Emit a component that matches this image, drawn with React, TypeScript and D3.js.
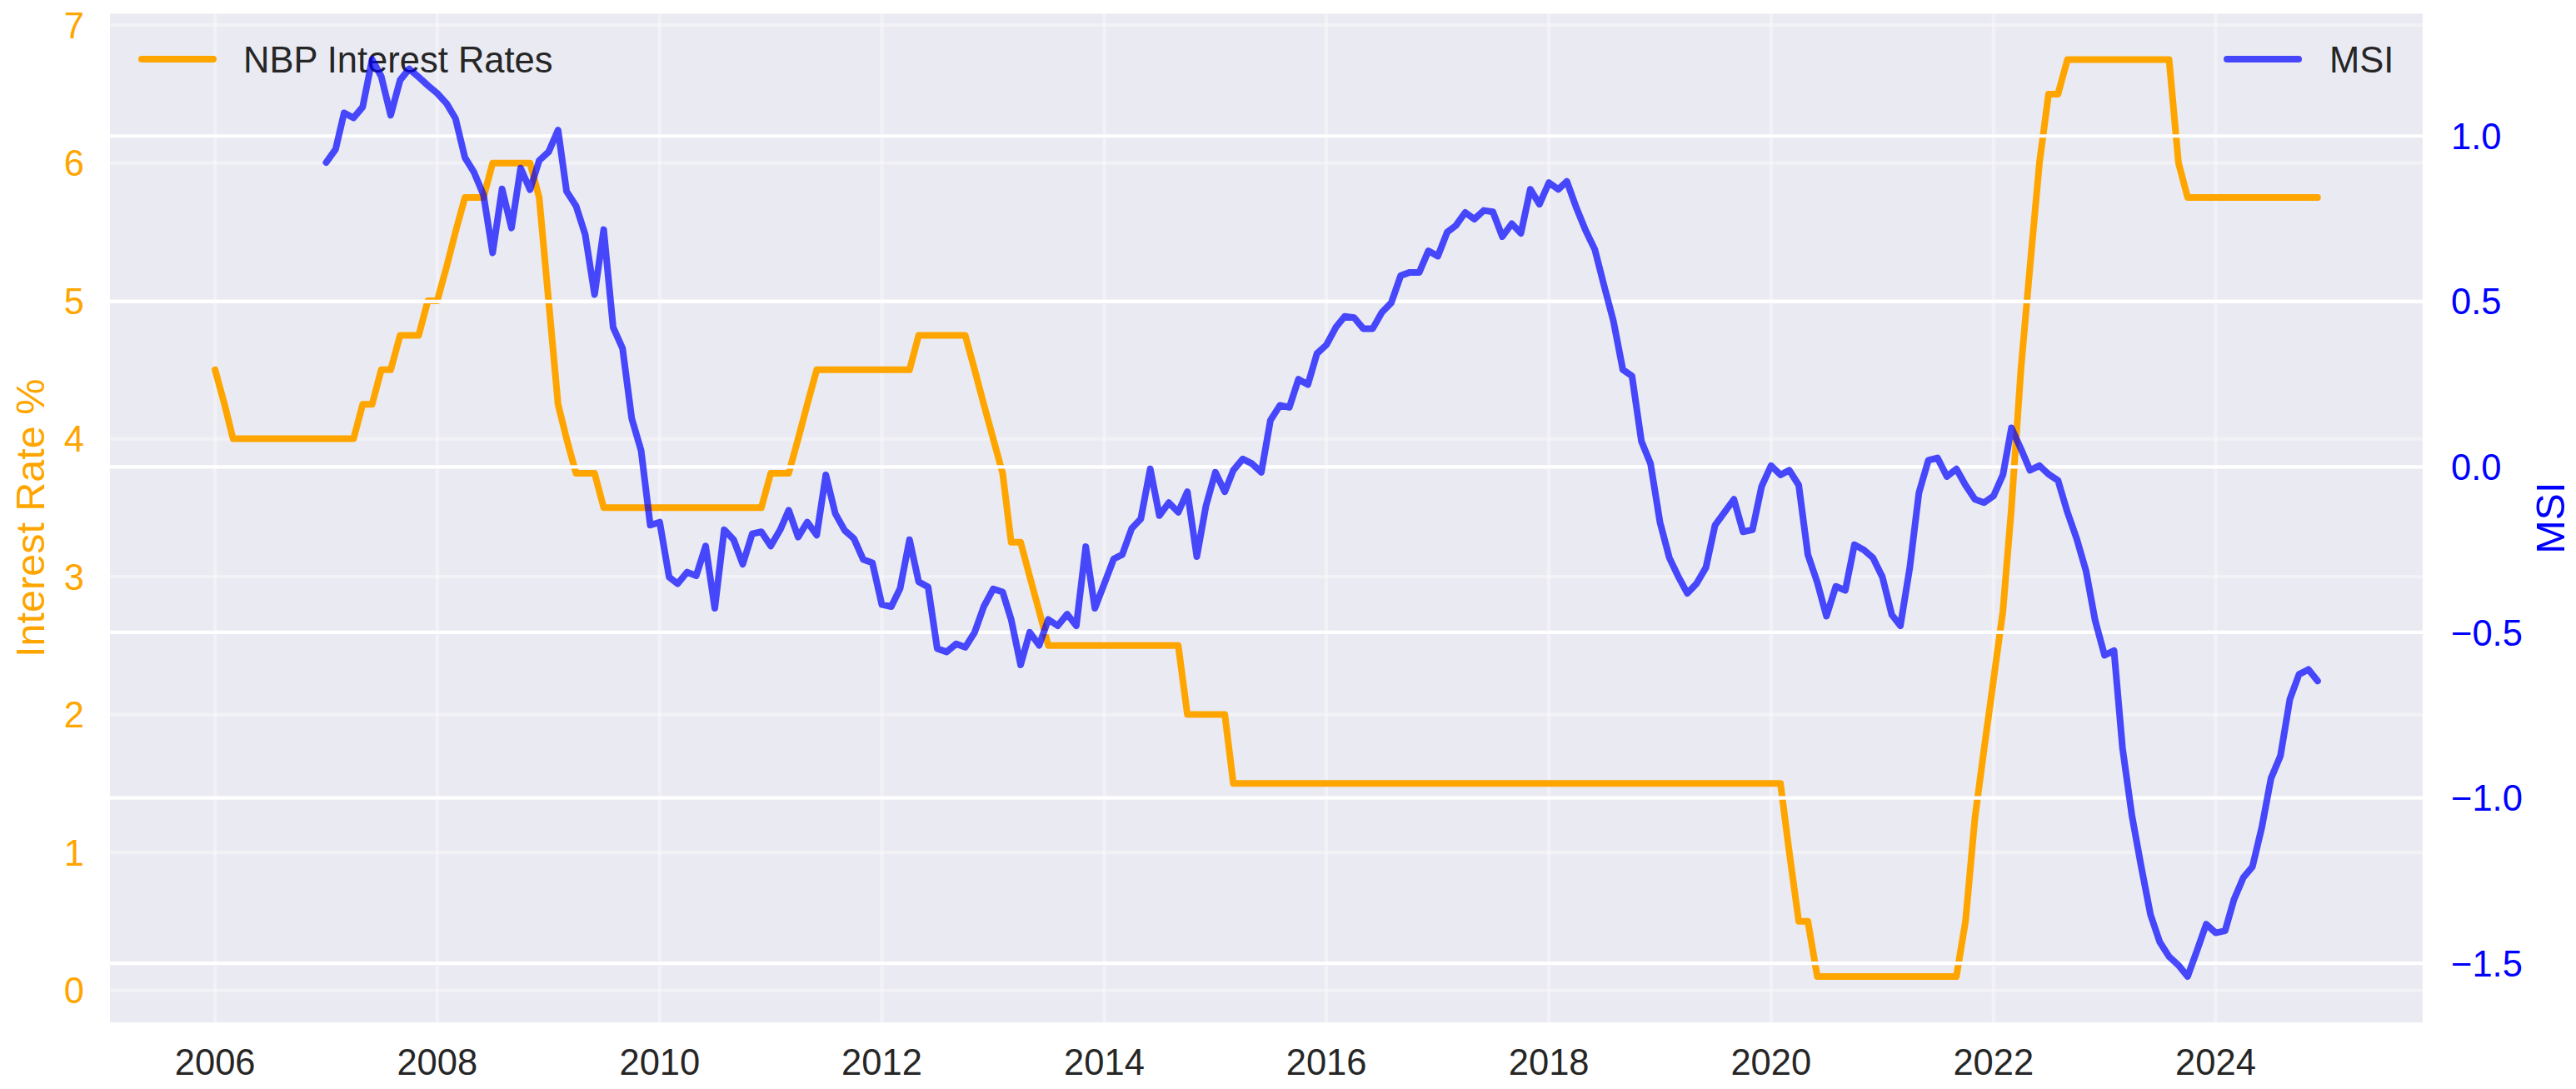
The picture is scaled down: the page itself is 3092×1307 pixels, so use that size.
import React from "react";
import * as d3 from "d3";

// NBP reference rate (%), monthly, Jan 2006 – Dec 2024
const rate2006 = [4.5, 4.25, 4.0, 4.0, 4.0, 4.0, 4.0, 4.0, 4.0, 4.0, 4.0, 4.0];
const rate2007 = [4.0, 4.0, 4.0, 4.0, 4.25, 4.25, 4.5, 4.5, 4.75, 4.75, 4.75, 5.0];
const rate2008 = [5.0, 5.25, 5.5, 5.75, 5.75, 5.75, 6.0, 6.0, 6.0, 6.0, 6.0, 5.75];
const rate2009 = [5.0, 4.25, 4.0, 3.75, 3.75, 3.75, 3.5, 3.5, 3.5, 3.5, 3.5, 3.5];
const rate2010 = [3.5, 3.5, 3.5, 3.5, 3.5, 3.5, 3.5, 3.5, 3.5, 3.5, 3.5, 3.5];
const rate2011 = [3.75, 3.75, 3.75, 4.0, 4.25, 4.5, 4.5, 4.5, 4.5, 4.5, 4.5, 4.5];
const rate2012 = [4.5, 4.5, 4.5, 4.5, 4.75, 4.75, 4.75, 4.75, 4.75, 4.75, 4.5, 4.25];
const rate2013 = [4.0, 3.75, 3.25, 3.25, 3.0, 2.75, 2.5, 2.5, 2.5, 2.5, 2.5, 2.5];
const rate2014 = [2.5, 2.5, 2.5, 2.5, 2.5, 2.5, 2.5, 2.5, 2.5, 2.0, 2.0, 2.0];
const rate2015 = [2.0, 2.0, 1.5, 1.5, 1.5, 1.5, 1.5, 1.5, 1.5, 1.5, 1.5, 1.5];
const rate2016 = [1.5, 1.5, 1.5, 1.5, 1.5, 1.5, 1.5, 1.5, 1.5, 1.5, 1.5, 1.5];
const rate2017 = [1.5, 1.5, 1.5, 1.5, 1.5, 1.5, 1.5, 1.5, 1.5, 1.5, 1.5, 1.5];
const rate2018 = [1.5, 1.5, 1.5, 1.5, 1.5, 1.5, 1.5, 1.5, 1.5, 1.5, 1.5, 1.5];
const rate2019 = [1.5, 1.5, 1.5, 1.5, 1.5, 1.5, 1.5, 1.5, 1.5, 1.5, 1.5, 1.5];
const rate2020 = [1.5, 1.5, 1.0, 0.5, 0.5, 0.1, 0.1, 0.1, 0.1, 0.1, 0.1, 0.1];
const rate2021 = [0.1, 0.1, 0.1, 0.1, 0.1, 0.1, 0.1, 0.1, 0.1, 0.5, 1.25, 1.75];
const rate2022 = [2.25, 2.75, 3.5, 4.5, 5.25, 6.0, 6.5, 6.5, 6.75, 6.75, 6.75, 6.75];
const rate2023 = [6.75, 6.75, 6.75, 6.75, 6.75, 6.75, 6.75, 6.75, 6.0, 5.75, 5.75, 5.75];
const rate2024 = [5.75, 5.75, 5.75, 5.75, 5.75, 5.75, 5.75, 5.75, 5.75, 5.75, 5.75, 5.75];

// MSI, monthly, Jan 2007 – Dec 2024
const msi2007 = [0.92, 0.96, 1.07, 1.055, 1.088, 1.231, 1.18, 1.063, 1.169, 1.203, 1.178, 1.153];
const msi2008 = [1.129, 1.098, 1.053, 0.935, 0.89, 0.822, 0.647, 0.84, 0.722, 0.903, 0.838, 0.926];
const msi2009 = [0.952, 1.018, 0.833, 0.789, 0.703, 0.521, 0.717, 0.422, 0.358, 0.147, 0.049, -0.176];
const msi2010 = [-0.167, -0.333, -0.353, -0.318, -0.329, -0.239, -0.427, -0.19, -0.22, -0.294, -0.202, -0.196];
const msi2011 = [-0.239, -0.19, -0.131, -0.212, -0.167, -0.206, -0.024, -0.141, -0.192, -0.216, -0.28, -0.29];
const msi2012 = [-0.416, -0.422, -0.367, -0.22, -0.347, -0.363, -0.549, -0.559, -0.535, -0.545, -0.5, -0.422];
const msi2013 = [-0.369, -0.378, -0.461, -0.598, -0.5, -0.539, -0.461, -0.48, -0.445, -0.48, -0.241, -0.427];
const msi2014 = [-0.353, -0.278, -0.265, -0.186, -0.157, -0.006, -0.147, -0.108, -0.137, -0.075, -0.271, -0.118];
const msi2015 = [-0.016, -0.075, -0.01, 0.024, 0.01, -0.016, 0.141, 0.186, 0.18, 0.265, 0.249, 0.343];
const msi2016 = [0.369, 0.422, 0.455, 0.451, 0.418, 0.418, 0.467, 0.496, 0.578, 0.588, 0.588, 0.653];
const msi2017 = [0.637, 0.71, 0.729, 0.769, 0.749, 0.775, 0.771, 0.696, 0.735, 0.706, 0.839, 0.794];
const msi2018 = [0.859, 0.839, 0.863, 0.784, 0.716, 0.657, 0.549, 0.441, 0.294, 0.275, 0.078, 0.01];
const msi2019 = [-0.167, -0.275, -0.329, -0.382, -0.353, -0.304, -0.176, -0.137, -0.098, -0.196, -0.19, -0.059];
const msi2020 = [0.004, -0.024, -0.01, -0.055, -0.265, -0.349, -0.451, -0.361, -0.373, -0.235, -0.251, -0.275];
const msi2021 = [-0.333, -0.447, -0.48, -0.304, -0.078, 0.02, 0.027, -0.029, -0.006, -0.055, -0.098, -0.108];
const msi2022 = [-0.088, -0.024, 0.118, 0.055, -0.01, 0.004, -0.022, -0.041, -0.137, -0.216, -0.314, -0.464];
const msi2023 = [-0.569, -0.555, -0.85, -1.054, -1.206, -1.353, -1.435, -1.48, -1.506, -1.54, -1.461, -1.382];
const msi2024 = [-1.408, -1.402, -1.308, -1.241, -1.208, -1.088, -0.941, -0.873, -0.702, -0.627, -0.612, -0.647];

const rateValues = [
  ...rate2006, ...rate2007, ...rate2008, ...rate2009, ...rate2010, ...rate2011, ...rate2012,
  ...rate2013, ...rate2014, ...rate2015, ...rate2016, ...rate2017, ...rate2018, ...rate2019,
  ...rate2020, ...rate2021, ...rate2022, ...rate2023, ...rate2024,
];
const msiValues = [
  ...msi2007, ...msi2008, ...msi2009, ...msi2010, ...msi2011, ...msi2012, ...msi2013,
  ...msi2014, ...msi2015, ...msi2016, ...msi2017, ...msi2018, ...msi2019, ...msi2020,
  ...msi2021, ...msi2022, ...msi2023, ...msi2024,
];

const rateStart = new Date(2006, 0, 1);
const msiStart = new Date(2007, 0, 1);
const leftTicks = [0, 1, 2, 3, 4, 5, 6, 7];
const rightTicks = [-1.5, -1.0, -0.5, 0.0, 0.5, 1.0];

const W = 3092;
const H = 1307;
const PL = 132;
const PR = 2908;
const PT = 16.5;
const PB = 1227;

const FONT = "'Liberation Sans', Arial, Helvetica, sans-serif";
const FS = 43.5;
const LFS = 48.5;
const LW = 8;
const ORANGE = "#FFA500";
const BLUE = "#0000FF";

function pad(ext: [number, number]): [number, number] {
  const s = ext[1] - ext[0];
  return [ext[0] - 0.05 * s, ext[1] + 0.05 * s];
}

export default function App() {
  const rateDates = d3.timeMonth.range(rateStart, d3.timeMonth.offset(rateStart, rateValues.length));
  const msiDates = d3.timeMonth.range(msiStart, d3.timeMonth.offset(msiStart, msiValues.length));
  const rateData = rateValues.map((v, i) => ({ d: rateDates[i], v }));
  const msiData = msiValues.map((v, i) => ({ d: msiDates[i], v }));

  const t0 = rateDates[0].getTime();
  const t1 = rateDates[rateDates.length - 1].getTime();
  const span = t1 - t0;
  const x = d3
    .scaleTime()
    .domain([new Date(t0 - 0.05 * span), new Date(t1 + 0.05 * span)])
    .range([PL, PR]);

  const yL = d3
    .scaleLinear()
    .domain(pad(d3.extent(rateValues) as [number, number]))
    .range([PB, PT]);
  const yR = d3
    .scaleLinear()
    .domain(pad(d3.extent(msiValues) as [number, number]))
    .range([PB, PT]);

  const xTicks = x.ticks(d3.timeYear.every(2) as any);

  const rateLine = d3
    .line<{ d: Date; v: number }>()
    .x((p) => x(p.d))
    .y((p) => yL(p.v))(rateData) as string;
  const msiLine = d3
    .line<{ d: Date; v: number }>()
    .x((p) => x(p.d))
    .y((p) => yR(p.v))(msiData) as string;

  const fmtR = (v: number) => d3.format(".1f")(v).replace("-", "\u2212");
  const midY = (PT + PB) / 2;

  return (
    <svg
      width={W}
      height={H}
      viewBox={`0 0 ${W} ${H}`}
      style={{ position: "absolute", left: 0, top: 0, background: "#ffffff" }}
      fontFamily={FONT}
    >
      <rect x={0} y={0} width={W} height={H} fill="#ffffff" />
      <rect x={PL} y={PT} width={PR - PL} height={PB - PT} fill="#EAEAF2" />

      {/* ax1 grid (faint) */}
      <g stroke="#ffffff" strokeOpacity={0.35} strokeWidth={4.2}>
        {xTicks.map((t, i) => (
          <line key={"vx" + i} x1={x(t)} x2={x(t)} y1={PT} y2={PB} />
        ))}
        {leftTicks.map((t) => (
          <line key={"hl" + t} x1={PL} x2={PR} y1={yL(t)} y2={yL(t)} />
        ))}
      </g>

      {/* NBP rates */}
      <path
        d={rateLine}
        fill="none"
        stroke={ORANGE}
        strokeWidth={LW}
        strokeLinejoin="round"
        strokeLinecap="round"
      />

      {/* ax1 legend */}
      <g>
        <line x1={170} x2={256} y1={71} y2={71} stroke={ORANGE} strokeWidth={LW} strokeLinecap="round" />
        <text x={292} y={87} fontSize={FS} fill="#262626">
          NBP Interest Rates
        </text>
      </g>

      {/* ax2 grid (white) */}
      <g stroke="#ffffff" strokeWidth={4.2}>
        {rightTicks.map((t) => (
          <line key={"hr" + t} x1={PL} x2={PR} y1={yR(t)} y2={yR(t)} />
        ))}
      </g>

      {/* MSI */}
      <path
        d={msiLine}
        fill="none"
        stroke={BLUE}
        strokeOpacity={0.7}
        strokeWidth={LW}
        strokeLinejoin="round"
        strokeLinecap="round"
      />

      {/* ax2 legend */}
      <g>
        <line x1={2673} x2={2759} y1={71} y2={71} stroke={BLUE} strokeOpacity={0.7} strokeWidth={LW} strokeLinecap="round" />
        <text x={2796} y={87} fontSize={FS} fill="#262626">
          MSI
        </text>
      </g>

      {/* x tick labels */}
      <g fontSize={FS} fill="#262626" textAnchor="middle">
        {xTicks.map((t, i) => (
          <text key={"xt" + i} x={x(t)} y={1290}>
            {d3.timeFormat("%Y")(t)}
          </text>
        ))}
      </g>

      {/* left tick labels */}
      <g fontSize={FS} fill={ORANGE} textAnchor="end">
        {leftTicks.map((t) => (
          <text key={"lt" + t} x={101} y={yL(t) + 15.6}>
            {String(t)}
          </text>
        ))}
      </g>

      {/* right tick labels */}
      <g fontSize={FS} fill={BLUE} textAnchor="start">
        {rightTicks.map((t) => (
          <text key={"rt" + t} x={2942} y={yR(t) + 15.6}>
            {fmtR(t)}
          </text>
        ))}
      </g>

      {/* axis labels */}
      <text
        transform={`translate(52.5, ${midY}) rotate(-90)`}
        textAnchor="middle"
        fontSize={LFS}
        fill={ORANGE}
      >
        Interest Rate %
      </text>
      <text
        transform={`translate(3077.5, ${midY}) rotate(-90)`}
        textAnchor="middle"
        fontSize={LFS}
        fill={BLUE}
      >
        MSI
      </text>
    </svg>
  );
}
